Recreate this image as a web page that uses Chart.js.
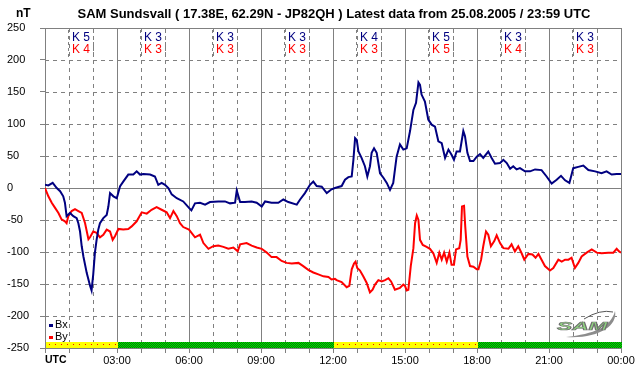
<!DOCTYPE html>
<html><head><meta charset="utf-8">
<script src="https://cdn.jsdelivr.net/npm/chart.js@4/dist/chart.umd.min.js"></script>
<style>html,body{margin:0;padding:0;background:#fff;}canvas{display:block;}</style>
</head><body>
<canvas id="c" width="642" height="376"></canvas>
<script>
// ---- data ----
const bxHours = [0,0.14,0.32,0.49,0.63,0.76,0.83,0.90,1.04,1.18,1.32,1.39,1.46,1.53,1.60,1.74,1.88,1.94,2.01,2.08,2.15,2.22,2.29,2.43,2.57,2.64,2.71,2.85,2.99,3.13,3.26,3.47,3.68,3.82,3.96,4.1,4.38,4.58,4.72,4.86,5.0,5.14,5.28,5.49,5.76,6.0,6.1,6.25,6.46,6.67,6.875,7.22,7.5,7.71,7.92,7.99,8.06,8.13,8.33,8.61,8.82,9.03,9.17,9.44,9.72,9.93,10.14,10.49,10.63,10.83,11.04,11.18,11.32,11.53,11.74,11.94,12.08,12.36,12.5,12.64,12.78,12.85,12.92,12.99,13.06,13.19,13.33,13.43,13.54,13.61,13.71,13.82,13.96,14.1,14.24,14.375,14.51,14.65,14.79,14.93,15.07,15.21,15.35,15.46,15.56,15.625,15.69,15.83,15.97,16.11,16.25,16.39,16.53,16.67,16.81,16.94,17.04,17.15,17.29,17.43,17.5,17.6,17.71,17.85,17.99,18.125,18.26,18.47,18.61,18.75,18.96,19.1,19.24,19.38,19.51,19.65,19.79,20.0,20.21,20.42,20.69,20.9,21.11,21.32,21.5,21.67,21.85,22.01,22.22,22.43,22.64,22.92,23.19,23.4,23.61,23.82,24];
const bxValues = [5,4,8,0,-5,-13,-23,-44,-39,-44,-47,-55,-68,-91,-107,-133,-153,-160,-135,-101,-81,-65,-55,-47,-42,-29,-8,-13,-16,3,10,21,21,26,21,22,21,18,5,8,5,0,-10,-16,-21,-31,-35,-24,-23,-26,-22,-21,-21,-24,-23,-4,-13,-22,-22,-21,-23,-29,-21,-23,-23,-18,-22,-26,-18,-8,5,10,3,2,-8,-2,0,3,13,17,18,44,78,75,57,47,34,18,34,55,62,55,23,16,8,-3,8,49,68,60,62,89,122,133,165,161,146,135,107,99,96,73,70,47,60,52,44,57,57,89,81,55,42,42,49,53,47,57,47,38,39,44,39,30,34,29,31,26,26,29,28,18,7,13,19,12,8,31,33,35,28,26,23,26,21,22,22];
const byHours = [0,0.14,0.28,0.42,0.56,0.69,0.83,0.9,0.97,1.11,1.25,1.39,1.53,1.67,1.81,1.875,2.01,2.15,2.29,2.43,2.57,2.71,2.82,2.92,3.06,3.26,3.47,3.61,3.82,4.03,4.24,4.44,4.65,4.86,5.07,5.21,5.35,5.49,5.625,5.76,6.0,6.25,6.46,6.6,6.81,7.01,7.22,7.43,7.64,7.85,8.03,8.13,8.4,8.61,8.82,9.03,9.24,9.44,9.65,9.86,10.07,10.28,10.56,10.76,10.97,11.18,11.39,11.6,11.81,11.94,12.08,12.15,12.36,12.57,12.68,12.78,12.875,12.94,13.01,13.125,13.26,13.4,13.54,13.65,13.75,13.89,14.03,14.17,14.31,14.42,14.58,14.79,14.93,15.0,15.07,15.14,15.24,15.35,15.42,15.49,15.56,15.625,15.74,15.9,16.04,16.18,16.32,16.43,16.53,16.63,16.74,16.85,16.94,17.04,17.125,17.26,17.32,17.375,17.46,17.51,17.6,17.71,17.85,17.99,18.06,18.17,18.26,18.375,18.47,18.58,18.72,18.82,18.96,19.1,19.31,19.44,19.58,19.72,19.86,19.97,20.14,20.31,20.44,20.56,20.69,20.83,21.04,21.18,21.39,21.53,21.67,21.81,21.94,22.08,22.22,22.36,22.57,22.78,22.99,23.19,23.47,23.68,23.82,23.92,24];
const byValues = [0,-13,-23,-31,-39,-49,-52,-55,-44,-36,-33,-36,-39,-55,-80,-77,-68,-70,-77,-73,-65,-68,-81,-75,-64,-65,-64,-60,-52,-38,-40,-34,-30,-34,-38,-47,-36,-44,-55,-61,-65,-77,-73,-86,-95,-91,-90,-92,-95,-93,-99,-88,-86,-90,-93,-95,-101,-108,-108,-114,-117,-118,-117,-122,-128,-132,-135,-138,-139,-143,-142,-144,-147,-155,-153,-127,-118,-115,-125,-129,-138,-148,-163,-159,-151,-144,-146,-144,-141,-146,-159,-156,-151,-153,-160,-159,-122,-94,-55,-43,-50,-81,-89,-92,-95,-102,-117,-101,-112,-101,-115,-101,-120,-120,-96,-94,-81,-29,-28,-60,-107,-122,-123,-127,-127,-112,-91,-68,-73,-91,-83,-74,-86,-94,-95,-88,-99,-91,-102,-112,-103,-104,-109,-103,-112,-122,-129,-125,-112,-115,-112,-112,-109,-125,-117,-107,-101,-96,-101,-102,-101,-101,-95,-99,-101];
const xTickLabels = ['UTC','03:00','06:00','09:00','12:00','15:00','18:00','21:00','00:00'];
const yTickValues = [250,200,150,100,50,0,-50,-100,-150,-200,-250];
const kBx = [5,3,3,3,4,5,3,3];
const kBy = [4,3,3,3,3,5,4,3];
const statusBar = ['y','g','g','g','y','y','g','g'];
const seriesNames = ['Bx','By'];
const titleText = 'SAM Sundsvall ( 17.38E, 62.29N - JP82QH ) Latest data from 25.08.2005 / 23:59 UTC';
const unitText = 'nT';

// ---- styles ----
const FONT = '"Liberation Sans", Arial, Helvetica, sans-serif';
const GRID = '#808080';
const BX_COLOR = '#000080';
const BY_COLOR = '#ff0000';

const decor = {
  id: 'decor',
  beforeDatasetsDraw(chart) {
    const {ctx, chartArea: a, scales: {x, y}} = chart;
    ctx.save();
    ctx.strokeStyle = GRID; ctx.lineWidth = 1;
    for (let h = 0; h <= 24; h++) {
      const px = Math.round(x.getPixelForValue(h)) + 0.5;
      ctx.setLineDash(h % 3 === 0 ? [] : [4, 4]);
      ctx.beginPath(); ctx.moveTo(px, a.top); ctx.lineTo(px, a.bottom); ctx.stroke();
    }
    yTickValues.forEach(v => {
      const py = Math.round(y.getPixelForValue(v)) + 0.5;
      ctx.setLineDash((v === 0 || v === 250 || v === -250) ? [] : [4, 4]);
      ctx.beginPath(); ctx.moveTo(a.left, py); ctx.lineTo(a.right, py); ctx.stroke();
    });
    ctx.setLineDash([]);
    // logo (background watermark)
    ctx.fillStyle = '#8c8c8c';
    ctx.beginPath();
    ctx.moveTo(566, 337);
    ctx.bezierCurveTo(598, 339, 618, 326, 615, 311);
    ctx.bezierCurveTo(611, 327, 594, 334, 566, 337);
    ctx.fill();
    ctx.strokeStyle = '#555'; ctx.lineWidth = 1;
    ctx.beginPath(); ctx.moveTo(584, 319); ctx.quadraticCurveTo(600, 309, 613, 312); ctx.stroke();
    ctx.translate(557, 330); ctx.scale(1.75, 0.8);
    ctx.font = 'italic bold 13px ' + FONT; ctx.textBaseline = 'alphabetic';
    ctx.fillStyle = '#8fd680'; ctx.fillText('SAM', 0, 0);
    ctx.strokeStyle = '#707070'; ctx.lineWidth = 0.8; ctx.strokeText('SAM', 0, 0);
    ctx.restore();
  },
  afterDatasetsDraw(chart) {
    const {ctx, chartArea: a, scales: {x, y}} = chart;
    ctx.save();
    // status bar
    const pc = document.createElement('canvas'); pc.width = 2; pc.height = 2;
    const p = pc.getContext('2d');
    p.fillStyle = '#00e000'; p.fillRect(0, 0, 2, 2);
    p.fillStyle = '#007a00'; p.fillRect(1, 0, 1, 1); p.fillRect(0, 1, 1, 1);
    const pat = ctx.createPattern(pc, 'repeat');
    const top = a.bottom - 6;
    statusBar.forEach((s, i) => {
      const x0 = Math.round(x.getPixelForValue(i * 3)) + 1;
      const x1 = Math.round(x.getPixelForValue(i * 3 + 3)) + 1;
      if (s === 'y') {
        ctx.fillStyle = '#ffff00'; ctx.fillRect(x0, top, x1 - x0, 6);
        ctx.fillStyle = '#ff0000';
        for (let px = x0 + 3; px < x1; px += 6) ctx.fillRect(px, top + 2, 1, 1);
      } else {
        ctx.fillStyle = pat; ctx.fillRect(x0, top, x1 - x0, 6);
      }
    });
    // K index boxes
    ctx.setLineDash([3, 3]); ctx.strokeStyle = GRID; ctx.lineWidth = 1;
    ctx.font = '12px ' + FONT; ctx.textAlign = 'center'; ctx.textBaseline = 'middle';
    kBx.forEach((k, i) => {
      const cx = Math.round(x.getPixelForValue(i * 3 + 1.5));
      [cx - 12.5, cx + 12.5].forEach(lx => {
        ctx.beginPath(); ctx.moveTo(lx, a.top + 2); ctx.lineTo(lx, a.top + 30); ctx.stroke();
      });
      ctx.fillStyle = BX_COLOR; ctx.fillText('K ' + k, cx, a.top + 10);
      ctx.fillStyle = BY_COLOR; ctx.fillText('K ' + kBy[i], cx, a.top + 22);
    });
    ctx.setLineDash([]);
    // legend
    const colors = [BX_COLOR, BY_COLOR];
    ctx.font = '11px ' + FONT; ctx.textAlign = 'left';
    seriesNames.forEach((n, i) => {
      const cy = a.bottom - 23 + i * 12;
      ctx.fillStyle = colors[i]; ctx.fillRect(a.left + 4, cy - 1, 4, 3);
      ctx.fillStyle = '#000'; ctx.fillText(n, a.left + 10, cy);
    });
    ctx.restore();
  },
  afterDraw(chart) {
    const {ctx, chartArea: a, scales: {x}} = chart;
    ctx.save();
    ctx.fillStyle = '#000'; ctx.textBaseline = 'middle';
    ctx.font = 'bold 13px ' + FONT; ctx.textAlign = 'center';
    ctx.fillText(titleText, 334, 14);
    ctx.font = 'bold 12px ' + FONT; ctx.textAlign = 'left';
    ctx.fillText(unitText, 16, 14);
    ctx.font = 'bold 10.5px ' + FONT; ctx.textAlign = 'left';
    ctx.fillText(xTickLabels[0], x.getPixelForValue(0), 360);
    ctx.restore();
  }
};

new Chart(document.getElementById('c'), {
  type: 'line',
  data: {
    datasets: [
      {label: seriesNames[0], data: bxHours.map((h, i) => ({x: h, y: bxValues[i]})), borderColor: BX_COLOR, borderWidth: 2, pointRadius: 0, tension: 0, fill: false},
      {label: seriesNames[1], data: byHours.map((h, i) => ({x: h, y: byValues[i]})), borderColor: BY_COLOR, borderWidth: 2, pointRadius: 0, tension: 0, fill: false}
    ]
  },
  options: {
    responsive: false, animation: false, devicePixelRatio: 1,
    layout: {padding: {left: 7, right: 21, top: 28, bottom: 8}},
    plugins: {legend: {display: false}, tooltip: {enabled: false}, title: {display: false}},
    scales: {
      x: {
        type: 'linear', min: 0, max: 24,
        afterBuildTicks: s => { const t = []; for (let h = 0; h <= 24; h++) t.push({value: h}); s.ticks = t; },
        ticks: {autoSkip: false, maxRotation: 0, padding: 1, color: '#000', font: {family: FONT, size: 11},
          callback: v => (v % 3 === 0 && v > 0) ? xTickLabels[v / 3] : ''},
        grid: {drawOnChartArea: false, tickLength: 5, color: GRID},
        border: {display: true, color: GRID},
        afterFit: s => { s.height = 20; }
      },
      y: {
        min: -250, max: 250,
        afterBuildTicks: s => { s.ticks = yTickValues.map(v => ({value: v})); },
        ticks: {crossAlign: 'far', padding: 3, color: '#000', font: {family: FONT, size: 11}},
        grid: {drawOnChartArea: false, tickLength: 5, color: GRID},
        border: {display: true, color: GRID},
        afterFit: s => { s.width = 38; }
      }
    }
  },
  plugins: [decor]
});
</script>
</body></html>
